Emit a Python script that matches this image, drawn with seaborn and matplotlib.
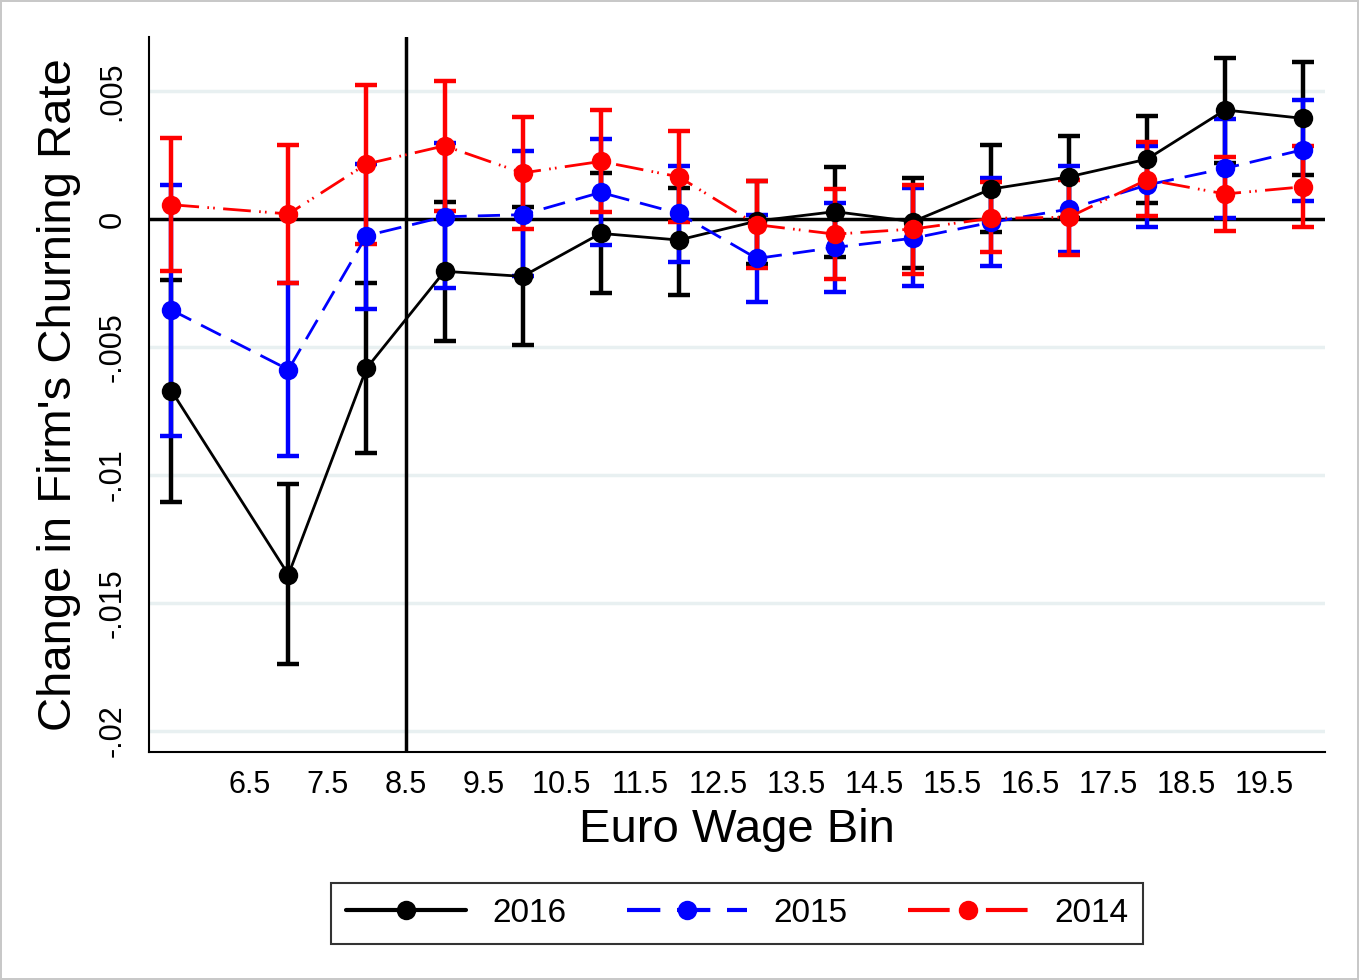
import pandas as pd
import matplotlib.pyplot as plt
import seaborn as sns
import numpy as np

# wage bins (first bin is the catch-all below 6 euro)
bins = [5.5, 7, 8, 9, 10, 11, 12, 13, 14, 15, 16, 17, 18, 19, 20]
xtick_vals = [6.5, 7.5, 8.5, 9.5, 10.5, 11.5, 12.5, 13.5, 14.5, 15.5, 16.5, 17.5, 18.5, 19.5]
ytick_vals = [0.005, 0, -0.005, -0.01, -0.015, -0.02]
ytick_labels = [".005", "0", "-.005", "-.01", "-.015", "-.02"]

# estimates and CI bounds, in units of 0.001
est_2016 = [-6.70, -13.89, -5.83, -2.04, -2.24, -0.56, -0.82, -0.08, 0.29, -0.10, 1.17, 1.65, 2.34, 4.26, 3.93]
lo_2016 = [-11.04, -17.38, -9.14, -4.75, -4.91, -2.90, -2.96, -1.76, -1.50, -1.91, -0.49, 0.05, 0.63, 2.20, 1.72]
hi_2016 = [-2.37, -10.35, -2.51, 0.68, 0.46, 1.80, 1.20, 1.50, 2.02, 1.60, 2.89, 3.26, 4.04, 6.29, 6.12]

est_2015 = [-3.55, -5.88, -0.65, 0.09, 0.17, 1.04, 0.22, -1.54, -1.11, -0.75, -0.13, 0.39, 1.33, 1.98, 2.71]
lo_2015 = [-8.46, -9.24, -3.52, -2.70, -2.21, -1.00, -1.69, -3.23, -2.83, -2.63, -1.82, -1.30, -0.33, 0.03, 0.72]
hi_2015 = [1.34, -2.50, 2.15, 2.96, 2.64, 3.12, 2.06, 0.17, 0.61, 1.20, 1.60, 2.06, 2.85, 3.91, 4.66]

est_2014 = [0.56, 0.20, 2.15, 2.86, 1.80, 2.25, 1.65, -0.22, -0.59, -0.39, 0.03, 0.07, 1.54, 0.98, 1.26]
lo_2014 = [-2.04, -2.50, -0.98, 0.33, -0.39, 0.29, -0.13, -1.91, -2.34, -2.15, -1.30, -1.41, 0.10, -0.48, -0.33]
hi_2014 = [3.16, 2.89, 5.23, 5.38, 3.97, 4.26, 3.42, 1.47, 1.17, 1.34, 1.43, 1.54, 3.00, 2.43, 2.84]

years = ["2016", "2015", "2014"]
colors = {"2016": "black", "2015": "#0000ff", "2014": "#ff0000"}
series = {
    "2016": (est_2016, lo_2016, hi_2016),
    "2015": (est_2015, lo_2015, hi_2015),
    "2014": (est_2014, lo_2014, hi_2014),
}

frames = []
for yr in years:
    est, lo, hi = series[yr]
    frames.append(pd.DataFrame({
        "bin": bins,
        "est": np.array(est) / 1000,
        "lo": np.array(lo) / 1000,
        "hi": np.array(hi) / 1000,
        "year": yr,
    }))
df = pd.concat(frames, ignore_index=True)

sns.set_style("white")
plt.rcParams["font.family"] = ["Liberation Sans", "DejaVu Sans"]
plt.rcParams["text.color"] = "black"
plt.rcParams["axes.labelcolor"] = "black"
plt.rcParams["xtick.color"] = "black"
plt.rcParams["ytick.color"] = "black"

fig, ax = plt.subplots(figsize=(13.59, 9.80), dpi=100)
fig.patch.set_edgecolor("#c8c8c8")
fig.patch.set_linewidth(1.5)

# grid lines
for t in ytick_vals:
    if t != 0:
        ax.axhline(t, color="#e8f0f1", linewidth=2.5, zorder=0)
ax.axhline(0, color="black", linewidth=2.5, zorder=1)
ax.axvline(8.5, color="black", linewidth=2.5, zorder=1)

# confidence intervals
for yr in years:
    d = df[df.year == yr]
    ax.errorbar(
        d["bin"], d["est"],
        yerr=[d["est"] - d["lo"], d["hi"] - d["est"]],
        fmt="none", ecolor=colors[yr], elinewidth=3.2,
        capsize=8, capthick=3.2, zorder=2,
    )

sns.lineplot(
    data=df, x="bin", y="est", hue="year", style="year",
    hue_order=years, style_order=years, palette=colors,
    dashes={"2016": "", "2015": (8, 4), "2014": (10, 3, 0.6, 1.5, 0.6, 3)},
    markers={"2016": "o", "2015": "o", "2014": "o"},
    markersize=14, markeredgewidth=0, linewidth=2, ax=ax, zorder=3,
)

ax.set_xlim(5.22, 20.28)
ax.set_ylim(-0.0208, 0.0071)
ax.set_xticks(xtick_vals)
ax.set_xticklabels([str(v) for v in xtick_vals], fontsize=22)
ax.set_yticks(ytick_vals)
ax.set_yticklabels(ytick_labels, fontsize=22, rotation=90, va="center")
ax.tick_params(axis="both", direction="out", length=7, width=1.5, color="black", pad=6)
ax.tick_params(axis="y", pad=9)
ax.set_xlabel("Euro Wage Bin", fontsize=34, labelpad=6)
ax.set_ylabel("Change in Firm's Churning Rate", fontsize=34, labelpad=12)

for s in ["top", "right"]:
    ax.spines[s].set_visible(False)
for s in ["left", "bottom"]:
    ax.spines[s].set_linewidth(1.5)
    ax.spines[s].set_color("black")

sns.move_legend(
    ax, "upper center", bbox_to_anchor=(0.5, -0.16), ncol=3, title=None,
    frameon=True, fontsize=24, handlelength=3.6, columnspacing=1.8,
    borderpad=0.45, handletextpad=0.8,
)
leg = ax.get_legend()
leg.get_frame().set_edgecolor("black")
leg.get_frame().set_linewidth(1.5)
leg.get_frame().set_boxstyle("square", pad=0)
for h in leg.legend_handles:
    h.set_linewidth(3)

plt.subplots_adjust(left=0.11, right=0.975, top=0.962, bottom=0.233)
fig.savefig("out.png", dpi=100, edgecolor=fig.get_edgecolor())
